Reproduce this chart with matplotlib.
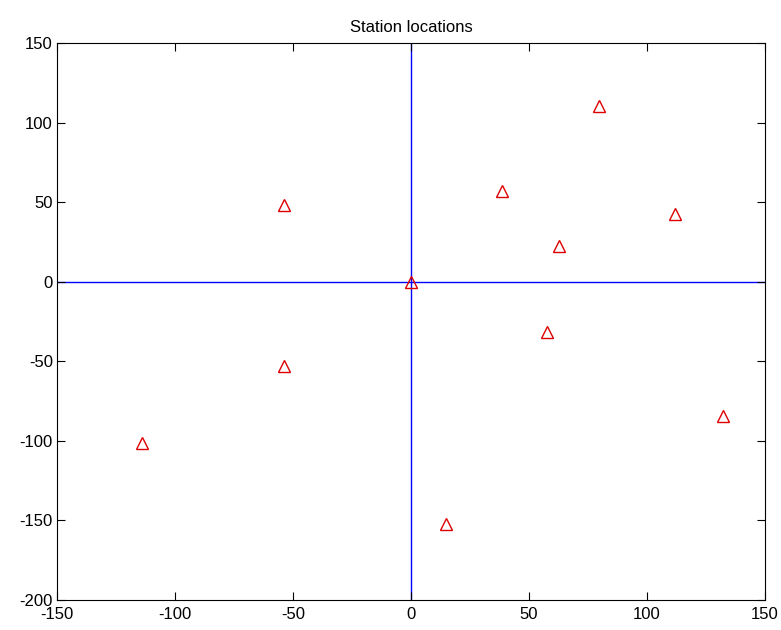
import numpy as np
import matplotlib.pyplot as plt

# station coordinates
station_x = [0.0, -54.0, -54.0, -114.0, 14.8, 38.5, 62.8, 79.7, 57.5, 111.9, 132.2]
station_y = [0.0, 48.0, -53.0, -101.5, -152.4, 57.0, 22.4, 110.3, -31.8, 42.4, -84.5]

x_ticks = [-150, -100, -50, 0, 50, 100, 150]
y_ticks = [-200, -150, -100, -50, 0, 50, 100, 150]

plt.rcParams['font.family'] = ['Liberation Sans', 'DejaVu Sans']
plt.rcParams['axes.unicode_minus'] = False

fig = plt.figure(figsize=(7.81, 6.30), dpi=100)
ax = fig.add_axes([0.073, 0.0476, 0.9065, 0.8841])

# axis cross lines
ax.axhline(0, color='#0000ff', lw=1.0, zorder=1)
ax.axvline(0, color='#0000ff', lw=1.0, zorder=1)

ax.plot(station_x, station_y, linestyle='none', marker='^', markersize=9,
        markerfacecolor='none', markeredgecolor='#dd0000', markeredgewidth=1.0,
        zorder=2)

ax.set_xlim(-150, 150)
ax.set_ylim(-200, 150)
ax.set_xticks(x_ticks)
ax.set_yticks(y_ticks)
ax.tick_params(direction='in', length=6, width=0.8, top=True, right=True,
               labelsize=12, pad=3)
ax.tick_params(axis='x', pad=5)
for s in ax.spines.values():
    s.set_linewidth(0.8)

ax.set_title('Station locations', fontsize=12, pad=8)

plt.savefig('out.png', dpi=100)
